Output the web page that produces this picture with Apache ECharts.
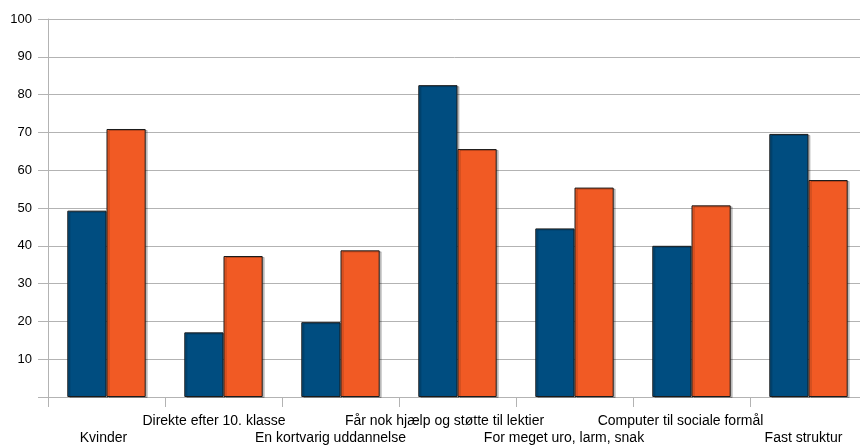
<!DOCTYPE html>
<html>
<head>
<meta charset="utf-8">
<script src="https://cdn.jsdelivr.net/npm/echarts@6/dist/echarts.min.js"></script>
<style>html,body{margin:0;padding:0;background:#fff}#c{width:860px;height:445px}</style>
</head>
<body>
<div id="c"></div>
<script>
const categories = ["Kvinder", "Direkte efter 10. klasse", "En kortvarig uddannelse", "Får nok hjælp og støtte til lektier", "For meget uro, larm, snak", "Computer til sociale formål", "Fast struktur"];
const seriesA = [49.3, 17.1, 19.8, 82.5, 44.6, 40.0, 69.6];
const seriesB = [70.9, 37.3, 38.8, 65.6, 55.4, 50.7, 57.4];
const yMin = 0, yMax = 100, yStep = 10;

const LABEL_FONT = '14px "Liberation Sans"';
const measureCtx = document.createElement('canvas').getContext('2d');
measureCtx.font = LABEL_FONT;
const rich = {};
categories.forEach((c, i) => {
  const w = measureCtx.measureText(c).width;
  rich['l' + i] = { fontSize: 14, lineHeight: 17, color: '#000', fontFamily: 'Liberation Sans', padding: [0, Math.round(w * 0.13), 0, 0] };
});

const chart = echarts.init(document.getElementById('c'));
const barStyle = (color) => ({
  color: color,
  borderColor: '#1b1b1b',
  borderWidth: 1,
  shadowColor: 'rgba(0,0,0,0.22)',
  shadowOffsetX: 2,
  shadowOffsetY: 1,
  shadowBlur: 0
});
chart.setOption({
  animation: false,
  textStyle: { fontFamily: 'Liberation Sans' },
  grid: { left: 48, width: 819, top: 19, height: 378, containLabel: false, outerBoundsMode: 'none' },
  xAxis: {
    type: 'category',
    data: categories,
    axisLine: { show: true, lineStyle: { color: '#b3b3b3', width: 1 } },
    axisTick: { show: true, length: 10, lineStyle: { color: '#b3b3b3' } },
    axisLabel: {
      interval: 0,
      hideOverlap: false,
      margin: 16,
      color: '#000',
      fontSize: 14,
      lineHeight: 17,
      fontFamily: 'Liberation Sans',
      rich: rich,
      formatter: (v, i) => (i % 2 === 0 ? '\n' : '') + '{l' + i + '|' + v + '}'
    }
  },
  yAxis: {
    type: 'value',
    min: yMin, max: yMax, interval: yStep,
    axisLine: { show: true, lineStyle: { color: '#b3b3b3' } },
    axisTick: { show: true, length: 10, lineStyle: { color: '#b3b3b3' } },
    splitLine: { show: true, lineStyle: { color: '#b3b3b3', width: 1 } },
    axisLabel: {
      margin: 16,
      color: '#000',
      fontSize: 13,
      fontFamily: 'Liberation Sans',
      formatter: (v) => (v === 0 ? '' : String(v))
    }
  },
  series: [
    { type: 'bar', data: seriesA, barGap: '0%', barCategoryGap: '33%', itemStyle: barStyle('#004d80') },
    { type: 'bar', data: seriesB, barGap: '0%', barCategoryGap: '33%', itemStyle: barStyle('#f15a24') }
  ]
});
</script>
</body>
</html>
